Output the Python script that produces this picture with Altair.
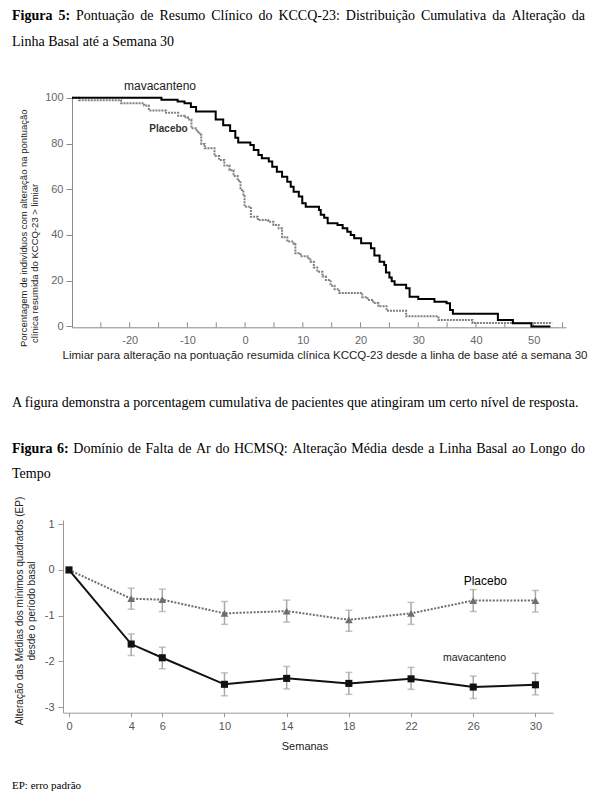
import altair as alt
import pandas as pd

# ---------------- Figure 5 data (cumulative distribution, step curves) ----------------
mava_thr = [-30, -14.5, -11.7, -10.5, -9.4, -8.5, -5.1, -3.8, -2.6, -1.7, -1.2, 0.9, 1.5, 2.3, 2.9,
            4.1, 4.7, 5.5, 6.4, 7.3, 7.9, 8.4, 9.3, 9.9, 10.5, 12.8, 13.1, 13.7, 14.3, 16.0, 16.9,
            17.7, 18.3, 18.9, 20.1, 21.8, 22.4, 23.3, 24.1, 24.4, 25.0, 25.4, 25.9, 27.9, 28.5,
            30.0, 32.8, 34.9, 35.5, 36.0, 43.8, 46.4, 49.6, 52.9]
mava_pct = [100, 99.2, 98.4, 97.6, 96.0, 94.0, 90.5, 88.0, 85.5, 82.5, 80.5, 79.4, 77.2, 75.0, 73.6,
            72.1, 69.9, 67.7, 65.5, 63.3, 61.1, 58.9, 56.8, 53.9, 52.4, 50.9, 48.8, 47.5, 45.1, 44.4,
            42.9, 41.4, 40.0, 38.6, 36.4, 34.2, 31.0, 28.3, 26.9, 23.6, 21.4, 19.8, 18.2, 16.7, 13.0,
            12.0, 10.8, 10.1, 7.2, 5.5, 2.8, 1.4, 0.0, 0.0]
plac_thr = [-30, -28.8, -21.5, -17.5, -16.7, -13.7, -11.6, -10.5, -9.9, -9.3, -8.4, -7.9, -7.6, -7.0,
            -5.3, -4.5, -3.6, -2.7, -2.0, -1.3, -0.8, -0.3, -0.1, 1.0, 2.2, 4.0, 4.9, 5.8, 6.4, 7.3,
            8.4, 8.7, 9.6, 10.8, 11.3, 11.9, 12.5, 13.4, 14.0, 14.8, 15.5, 16.3, 20.3, 21.2, 22.2,
            23.1, 24.5, 27.9, 33.5, 39.4, 53.2]
plac_pct = [100, 99.0, 97.6, 96.6, 94.5, 93.5, 92.2, 91.5, 90.5, 86.7, 85.2, 83.8, 79.8, 77.9,
            74.5, 72.8, 70.4, 68.3, 65.8, 63.7, 59.7, 57.0, 52.4, 48.0, 46.5, 45.8, 44.4, 42.9, 39.0, 37.1,
            36.0, 32.0, 30.7, 29.8, 28.3, 25.8, 23.9, 21.8, 20.3, 17.8, 16.3, 14.6, 12.8, 11.6, 10.2,
            8.8, 6.8, 4.4, 2.8, 1.5, 1.5]
fig5_x_ticks = [-25, -20, -15, -10, -5, 0, 5, 10, 15, 20, 25, 30, 35, 40, 45, 50, 55]
fig5_y_ticks = [0, 20, 40, 60, 80, 100]

# ---------------- Figure 6 data (LS mean change, SE) ----------------
weeks = [0, 4, 6, 10, 14, 18, 22, 26, 30]
mava_mean = [0, -1.62, -1.92, -2.50, -2.37, -2.48, -2.38, -2.56, -2.51]
mava_lo = [0, -1.87, -2.16, -2.75, -2.60, -2.72, -2.61, -2.81, -2.73]
mava_hi = [0, -1.40, -1.69, -2.25, -2.11, -2.24, -2.13, -2.32, -2.26]
plac_mean = [0, -0.63, -0.65, -0.95, -0.90, -1.09, -0.95, -0.67, -0.67]
plac_lo = [0, -0.86, -0.91, -1.19, -1.14, -1.34, -1.19, -0.91, -0.92]
plac_hi = [0, -0.40, -0.42, -0.69, -0.66, -0.88, -0.71, -0.43, -0.45]
fig6_y_ticks = [-3, -2, -1, 0, 1]

# ---------------- Texts ----------------
fig5_bold = "Figura 5:"
fig5_line1 = "Pontuação de Resumo Clínico do KCCQ-23: Distribuição Cumulativa da Alteração da"
fig5_line2 = "Linha Basal até a Semana 30"
fig5_ytitle1 = "Porcentagem de indivíduos com alteração na pontuação"
fig5_ytitle2 = "clínica resumida do KCCQ-23 > limiar"
fig5_xtitle = "Limiar para alteração na pontuação resumida clínica KCCQ-23 desde a linha de base até a semana 30"
note5 = "A figura demonstra a porcentagem cumulativa de pacientes que atingiram um certo nível de resposta."
fig6_bold = "Figura 6:"
fig6_line1 = "Domínio de Falta de Ar do HCMSQ: Alteração Média desde a Linha Basal ao Longo do"
fig6_line2 = "Tempo"
fig6_ytitle1 = "Alteração das Médias dos mínimos quadrados (EP)"
fig6_ytitle2 = "desde o período basal"
fig6_xtitle = "Semanas"
name_mava = "mavacanteno"
name_plac = "Placebo"
footnote = "EP: erro padrão"

W, H = 590, 792
SANS = "Liberation Sans"
SERIF = "Liberation Serif"

# Approximate Times glyph widths (per 1000 em) used only to justify caption lines
_TW = {" ": 250, ":": 278, "-": 333, ".": 250, "(": 333, ")": 333}
_TW.update({d: 500 for d in "0123456789"})
_TW.update(dict(zip("ABCDEFGHIJKLMNOPQRSTUVWXYZ",
                    [722, 667, 667, 722, 611, 556, 722, 722, 333, 389, 722, 611, 889, 722, 722,
                     556, 722, 667, 556, 611, 722, 722, 944, 722, 722, 611])))
_TW.update(dict(zip("abcdefghijklmnopqrstuvwxyz",
                    [444, 500, 444, 500, 444, 333, 500, 500, 278, 278, 500, 278, 778, 500, 500,
                     500, 500, 333, 389, 278, 500, 500, 722, 500, 500, 444])))
_TW.update({"á": 444, "ã": 444, "â": 444, "à": 444, "é": 444, "ê": 444, "í": 278,
            "ó": 500, "õ": 500, "ô": 500, "ú": 500, "ç": 444})
_TWB = dict(_TW)
_TWB.update({"F": 611, "u": 556, "r": 444, "a": 500, ":": 333})


def tw(word, bold=False, size=14):
    table = _TWB if bold else _TW
    return sum(table.get(c, 500) for c in word) * size / 1000.0


def txt(text, x, y, size=11, color="#222222", font=SANS, weight="normal",
        align="left", baseline="alphabetic", angle=0):
    return alt.Chart(pd.DataFrame({"t": [text]})).mark_text(
        align=align, baseline=baseline, font=font, fontSize=size,
        fontWeight=weight, color=color, angle=angle
    ).encode(x=alt.value(x), y=alt.value(y), text="t:N")


def justified(bold_text, text, x0, x1, y, size=14):
    tokens = [(w, True) for w in bold_text.split()] + [(w, False) for w in text.split()]
    natural = sum(tw(w, b, size) for w, b in tokens)
    gap = (x1 - x0 - natural) / (len(tokens) - 1)
    layers = []
    x = x0
    for i, (w, b) in enumerate(tokens):
        if i == len(tokens) - 1:
            layers.append(txt(w, x1, y, size=size, color="#000000", font=SERIF,
                              weight="bold" if b else "normal", align="right"))
        else:
            layers.append(txt(w, x, y, size=size, color="#000000", font=SERIF,
                              weight="bold" if b else "normal"))
        x += tw(w, b, size) + gap
    return layers


# ---------------- Figure 5 chart ----------------
xA_scale = alt.Scale(domain=[-30, 55.6], range=[64, 558], nice=False, zero=False)
yA_scale = alt.Scale(domain=[-0.4, 100.5], range=[319.3, 88.7], nice=False, zero=False)
xA_axis = alt.Axis(orient="bottom", offset=319.3 - H, values=fig5_x_ticks, ticks=False,
                   labelExpr="datum.value % 10 === 0 ? '' + datum.value : ''",
                   domainColor="#8a8a8a", labelColor="#666666", labelFont=SANS,
                   labelFontSize=11, labelPadding=7, grid=False)
yA_axis = alt.Axis(orient="left", offset=-64, values=fig5_y_ticks, tickSize=6,
                   tickColor="#8a8a8a", domainColor="#8a8a8a", labelColor="#666666",
                   labelFont=SANS, labelFontSize=11, labelPadding=3, grid=False)

df_m5 = pd.DataFrame({"thr": mava_thr, "pct": mava_pct})
df_p5 = pd.DataFrame({"thr": plac_thr, "pct": plac_pct})
df_t5 = pd.DataFrame({"thr": fig5_x_ticks})

XA = alt.X("thr:Q", scale=xA_scale, axis=xA_axis, title=None)
YA = alt.Y("pct:Q", scale=yA_scale, axis=yA_axis, title=None)

plac5 = alt.Chart(df_p5).mark_line(interpolate="step-after", color="#808080",
                                   strokeWidth=2, strokeDash=[2, 1]).encode(x=XA, y=YA)
mava5 = alt.Chart(df_m5).mark_line(interpolate="step-after", color="#000000",
                                   strokeWidth=2).encode(x=XA, y=YA)
ticks5 = alt.Chart(df_t5).mark_rule(color="#8a8a8a", strokeWidth=1).encode(
    x=XA, y=alt.value(319.3), y2=alt.value(314.3))

fig5 = alt.layer(ticks5, plac5, mava5)

# ---------------- Figure 6 chart ----------------
xB_scale = alt.Scale(domain=[-0.386, 31.13], range=[55, 545], nice=False, zero=False)
yB_scale = alt.Scale(domain=[-3.12, 1.09], range=[704.7, 512], nice=False, zero=False)
xB_axis = alt.Axis(orient="bottom", offset=704.7 - H, values=weeks, tickSize=4,
                   labelExpr="'' + datum.value",
                   tickColor="#999999", domainColor="#999999", labelColor="#555555",
                   labelFont=SANS, labelFontSize=11, labelPadding=4, grid=False)
yB_axis = alt.Axis(orient="left", offset=-55, values=fig6_y_ticks, tickSize=5,
                   labelExpr="'' + datum.value",
                   tickColor="#999999", domainColor="#999999", labelColor="#555555",
                   labelFont=SANS, labelFontSize=11, labelPadding=4, grid=False)

df_m6 = pd.DataFrame({"week": weeks, "mean": mava_mean, "lo": mava_lo, "hi": mava_hi})
df_p6 = pd.DataFrame({"week": weeks, "mean": plac_mean, "lo": plac_lo, "hi": plac_hi})

XB = alt.X("week:Q", scale=xB_scale, axis=xB_axis, title=None)
YB = alt.Y("mean:Q", scale=yB_scale, axis=yB_axis, title=None)
YBlo = alt.Y("lo:Q", scale=yB_scale, axis=yB_axis, title=None)
YBhi = alt.Y("hi:Q", scale=yB_scale, axis=yB_axis, title=None)


def errbars(df):
    base = alt.Chart(df).transform_filter("datum.hi > datum.lo")
    bar = base.mark_rule(color="#a8a8a8", strokeWidth=1.5).encode(x=XB, y=YBlo, y2="hi:Q")
    cap_lo = base.mark_tick(color="#a8a8a8", orient="horizontal", size=7, thickness=1.5).encode(x=XB, y=YBlo)
    cap_hi = base.mark_tick(color="#a8a8a8", orient="horizontal", size=7, thickness=1.5).encode(x=XB, y=YBhi)
    return [bar, cap_lo, cap_hi]


plac6_line = alt.Chart(df_p6).mark_line(color="#6e6e6e", strokeWidth=2,
                                        strokeDash=[2, 1.5]).encode(x=XB, y=YB)
plac6_pts = alt.Chart(df_p6).mark_point(shape="triangle-up", filled=True, opacity=1,
                                        color="#6e6e6e", size=60).encode(x=XB, y=YB)
mava6_line = alt.Chart(df_m6).mark_line(color="#111111", strokeWidth=2).encode(x=XB, y=YB)
mava6_pts = alt.Chart(df_m6).mark_point(shape="square", filled=True, opacity=1,
                                        color="#111111", size=50).encode(x=XB, y=YB)

fig6 = alt.layer(*errbars(df_p6), *errbars(df_m6), plac6_line, plac6_pts, mava6_line, mava6_pts)

# ---------------- Text annotations ----------------
texts = (
    justified(fig5_bold, fig5_line1, 4, 577, 11.5)
    + [
        txt(fig5_line2, 4, 38, size=14, color="#000000", font=SERIF),
        txt(name_mava, 152, 78, size=12, color="#222222", align="center", baseline="middle"),
        txt(name_plac, 160.5, 121, size=10, color="#333333", weight="bold", align="center", baseline="middle"),
        txt(fig5_ytitle1, 16, 339, size=9.5, color="#222222", align="left", baseline="middle", angle=270),
        txt(fig5_ytitle2, 27, 335, size=9.5, color="#222222", align="left", baseline="middle", angle=270),
        txt(fig5_xtitle, 317, 348, size=11.5, color="#222222", align="center", baseline="middle"),
        txt(note5, 4, 399, size=14, color="#000000", font=SERIF),
    ]
    + justified(fig6_bold, fig6_line1, 4, 577, 444.5)
    + [
        txt(fig6_line2, 4, 469.5, size=14, color="#000000", font=SERIF),
        txt(fig6_ytitle1, 12, 603, size=10, color="#222222", align="center", baseline="middle", angle=270),
        txt(fig6_ytitle2, 23.5, 603, size=10, color="#222222", align="center", baseline="middle", angle=270),
        txt(fig6_xtitle, 297, 739, size=11, color="#222222", align="center", baseline="middle"),
        txt(name_plac, 499, 573, size=12, color="#000000", align="right", baseline="middle"),
        txt(name_mava, 498, 650, size=10.5, color="#222222", align="right", baseline="middle"),
        txt(footnote, 4, 781, size=11, color="#000000", font=SERIF),
    ]
)

chart = alt.layer(fig5, fig6, *texts).resolve_scale(
    x="independent", y="independent"
).resolve_axis(
    x="independent", y="independent"
).properties(
    width=W, height=H,
    autosize=alt.AutoSizeParams(type="none"),
    padding=0,
    background="white",
).configure_view(strokeWidth=0)

chart.save("out.html", embed_options={"renderer": "svg", "actions": False})
